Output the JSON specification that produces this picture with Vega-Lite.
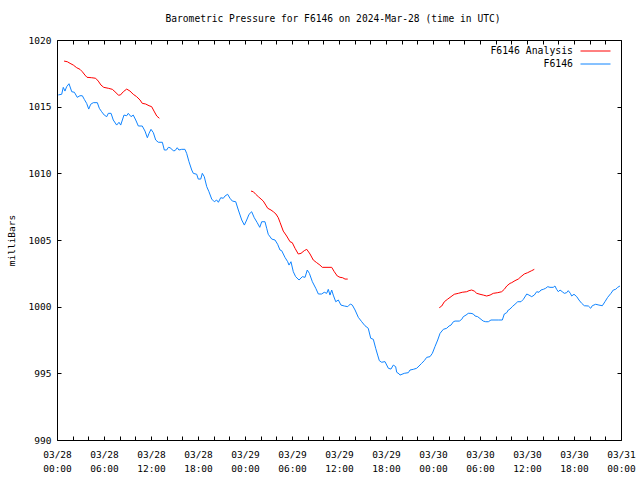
{
  "$schema": "https://vega.github.io/schema/vega-lite/v6.json",
  "width": 564,
  "height": 400,
  "autosize": {"type": "none"},
  "padding": {"left": 57, "top": 40, "right": 19, "bottom": 40},
  "background": "white",
  "config": {
    "font": "DejaVu Sans Mono",
    "view": {"stroke": "black", "strokeWidth": 1},
    "axis": {
      "domain": false, "grid": false, "tickColor": "black", "tickWidth": 1,
      "labelColor": "black", "labelFont": "DejaVu Sans Mono", "labelFontSize": 9.5,
      "titleFont": "DejaVu Sans Mono", "titleFontSize": 9.5, "titleFontWeight": "normal", "titleColor": "black",
      "labelOverlap": false, "labelFlush": false
    },
    "legend": {
      "labelFont": "DejaVu Sans Mono", "labelFontSize": 9.8, "labelColor": "black"
    }
  },
  "title": {
    "text": "Barometric Pressure for F6146 on 2024-Mar-28 (time in UTC)",
    "font": "DejaVu Sans Mono", "fontSize": 9.6, "fontWeight": "normal", "color": "black",
    "anchor": "middle", "offset": 11, "dx": -6
  },
  "data": {"values": [
    {"t":"2024-03-28T00:54:00Z","p":1018.42,"s":"F6146 Analysis","g":"a1"},
    {"t":"2024-03-28T01:19:00Z","p":1018.37,"s":"F6146 Analysis","g":"a1"},
    {"t":"2024-03-28T01:40:00Z","p":1018.25,"s":"F6146 Analysis","g":"a1"},
    {"t":"2024-03-28T02:05:00Z","p":1018.12,"s":"F6146 Analysis","g":"a1"},
    {"t":"2024-03-28T02:31:00Z","p":1017.92,"s":"F6146 Analysis","g":"a1"},
    {"t":"2024-03-28T02:56:00Z","p":1017.8,"s":"F6146 Analysis","g":"a1"},
    {"t":"2024-03-28T03:14:00Z","p":1017.62,"s":"F6146 Analysis","g":"a1"},
    {"t":"2024-03-28T03:34:00Z","p":1017.37,"s":"F6146 Analysis","g":"a1"},
    {"t":"2024-03-28T03:50:00Z","p":1017.2,"s":"F6146 Analysis","g":"a1"},
    {"t":"2024-03-28T04:26:00Z","p":1017.17,"s":"F6146 Analysis","g":"a1"},
    {"t":"2024-03-28T04:56:00Z","p":1017.13,"s":"F6146 Analysis","g":"a1"},
    {"t":"2024-03-28T05:16:00Z","p":1016.92,"s":"F6146 Analysis","g":"a1"},
    {"t":"2024-03-28T05:37:00Z","p":1016.62,"s":"F6146 Analysis","g":"a1"},
    {"t":"2024-03-28T05:58:00Z","p":1016.45,"s":"F6146 Analysis","g":"a1"},
    {"t":"2024-03-28T06:33:00Z","p":1016.38,"s":"F6146 Analysis","g":"a1"},
    {"t":"2024-03-28T07:04:00Z","p":1016.3,"s":"F6146 Analysis","g":"a1"},
    {"t":"2024-03-28T07:24:00Z","p":1016.12,"s":"F6146 Analysis","g":"a1"},
    {"t":"2024-03-28T07:50:00Z","p":1015.87,"s":"F6146 Analysis","g":"a1"},
    {"t":"2024-03-28T08:05:00Z","p":1015.87,"s":"F6146 Analysis","g":"a1"},
    {"t":"2024-03-28T08:28:00Z","p":1016.12,"s":"F6146 Analysis","g":"a1"},
    {"t":"2024-03-28T08:54:00Z","p":1016.32,"s":"F6146 Analysis","g":"a1"},
    {"t":"2024-03-28T09:19:00Z","p":1016.17,"s":"F6146 Analysis","g":"a1"},
    {"t":"2024-03-28T09:44:00Z","p":1015.93,"s":"F6146 Analysis","g":"a1"},
    {"t":"2024-03-28T10:10:00Z","p":1015.75,"s":"F6146 Analysis","g":"a1"},
    {"t":"2024-03-28T10:36:00Z","p":1015.5,"s":"F6146 Analysis","g":"a1"},
    {"t":"2024-03-28T10:53:00Z","p":1015.25,"s":"F6146 Analysis","g":"a1"},
    {"t":"2024-03-28T11:19:00Z","p":1015.2,"s":"F6146 Analysis","g":"a1"},
    {"t":"2024-03-28T11:45:00Z","p":1015.07,"s":"F6146 Analysis","g":"a1"},
    {"t":"2024-03-28T12:05:00Z","p":1015.0,"s":"F6146 Analysis","g":"a1"},
    {"t":"2024-03-28T12:23:00Z","p":1014.67,"s":"F6146 Analysis","g":"a1"},
    {"t":"2024-03-28T12:44:00Z","p":1014.3,"s":"F6146 Analysis","g":"a1"},
    {"t":"2024-03-28T13:04:00Z","p":1014.13,"s":"F6146 Analysis","g":"a1"},
    {"t":"2024-03-29T00:46:00Z","p":1008.67,"s":"F6146 Analysis","g":"a2"},
    {"t":"2024-03-29T01:04:00Z","p":1008.62,"s":"F6146 Analysis","g":"a2"},
    {"t":"2024-03-29T01:22:00Z","p":1008.43,"s":"F6146 Analysis","g":"a2"},
    {"t":"2024-03-29T01:42:00Z","p":1008.25,"s":"F6146 Analysis","g":"a2"},
    {"t":"2024-03-29T02:03:00Z","p":1008.07,"s":"F6146 Analysis","g":"a2"},
    {"t":"2024-03-29T02:20:00Z","p":1007.92,"s":"F6146 Analysis","g":"a2"},
    {"t":"2024-03-29T02:39:00Z","p":1007.62,"s":"F6146 Analysis","g":"a2"},
    {"t":"2024-03-29T02:54:00Z","p":1007.38,"s":"F6146 Analysis","g":"a2"},
    {"t":"2024-03-29T03:19:00Z","p":1007.25,"s":"F6146 Analysis","g":"a2"},
    {"t":"2024-03-29T03:37:00Z","p":1007.12,"s":"F6146 Analysis","g":"a2"},
    {"t":"2024-03-29T03:57:00Z","p":1006.95,"s":"F6146 Analysis","g":"a2"},
    {"t":"2024-03-29T04:15:00Z","p":1006.67,"s":"F6146 Analysis","g":"a2"},
    {"t":"2024-03-29T04:28:00Z","p":1006.33,"s":"F6146 Analysis","g":"a2"},
    {"t":"2024-03-29T04:53:00Z","p":1005.67,"s":"F6146 Analysis","g":"a2"},
    {"t":"2024-03-29T05:19:00Z","p":1005.3,"s":"F6146 Analysis","g":"a2"},
    {"t":"2024-03-29T05:45:00Z","p":1004.87,"s":"F6146 Analysis","g":"a2"},
    {"t":"2024-03-29T06:02:00Z","p":1004.8,"s":"F6146 Analysis","g":"a2"},
    {"t":"2024-03-29T06:23:00Z","p":1004.38,"s":"F6146 Analysis","g":"a2"},
    {"t":"2024-03-29T06:48:00Z","p":1003.95,"s":"F6146 Analysis","g":"a2"},
    {"t":"2024-03-29T07:09:00Z","p":1004.0,"s":"F6146 Analysis","g":"a2"},
    {"t":"2024-03-29T07:34:00Z","p":1004.2,"s":"F6146 Analysis","g":"a2"},
    {"t":"2024-03-29T07:53:00Z","p":1004.3,"s":"F6146 Analysis","g":"a2"},
    {"t":"2024-03-29T08:18:00Z","p":1003.95,"s":"F6146 Analysis","g":"a2"},
    {"t":"2024-03-29T08:43:00Z","p":1003.5,"s":"F6146 Analysis","g":"a2"},
    {"t":"2024-03-29T09:09:00Z","p":1003.3,"s":"F6146 Analysis","g":"a2"},
    {"t":"2024-03-29T09:34:00Z","p":1003.12,"s":"F6146 Analysis","g":"a2"},
    {"t":"2024-03-29T09:52:00Z","p":1002.95,"s":"F6146 Analysis","g":"a2"},
    {"t":"2024-03-29T11:04:00Z","p":1002.95,"s":"F6146 Analysis","g":"a2"},
    {"t":"2024-03-29T11:24:00Z","p":1002.62,"s":"F6146 Analysis","g":"a2"},
    {"t":"2024-03-29T11:47:00Z","p":1002.3,"s":"F6146 Analysis","g":"a2"},
    {"t":"2024-03-29T12:08:00Z","p":1002.2,"s":"F6146 Analysis","g":"a2"},
    {"t":"2024-03-29T12:28:00Z","p":1002.17,"s":"F6146 Analysis","g":"a2"},
    {"t":"2024-03-29T12:46:00Z","p":1002.07,"s":"F6146 Analysis","g":"a2"},
    {"t":"2024-03-29T13:07:00Z","p":1002.07,"s":"F6146 Analysis","g":"a2"},
    {"t":"2024-03-30T00:48:00Z","p":999.92,"s":"F6146 Analysis","g":"a3"},
    {"t":"2024-03-30T01:07:00Z","p":1000.05,"s":"F6146 Analysis","g":"a3"},
    {"t":"2024-03-30T01:27:00Z","p":1000.37,"s":"F6146 Analysis","g":"a3"},
    {"t":"2024-03-30T01:53:00Z","p":1000.57,"s":"F6146 Analysis","g":"a3"},
    {"t":"2024-03-30T02:18:00Z","p":1000.75,"s":"F6146 Analysis","g":"a3"},
    {"t":"2024-03-30T02:43:00Z","p":1000.93,"s":"F6146 Analysis","g":"a3"},
    {"t":"2024-03-30T03:14:00Z","p":1001.0,"s":"F6146 Analysis","g":"a3"},
    {"t":"2024-03-30T03:44:00Z","p":1001.08,"s":"F6146 Analysis","g":"a3"},
    {"t":"2024-03-30T04:18:00Z","p":1001.12,"s":"F6146 Analysis","g":"a3"},
    {"t":"2024-03-30T04:36:00Z","p":1001.2,"s":"F6146 Analysis","g":"a3"},
    {"t":"2024-03-30T04:56:00Z","p":1001.25,"s":"F6146 Analysis","g":"a3"},
    {"t":"2024-03-30T05:16:00Z","p":1001.17,"s":"F6146 Analysis","g":"a3"},
    {"t":"2024-03-30T05:35:00Z","p":1001.0,"s":"F6146 Analysis","g":"a3"},
    {"t":"2024-03-30T06:00:00Z","p":1000.93,"s":"F6146 Analysis","g":"a3"},
    {"t":"2024-03-30T06:25:00Z","p":1000.87,"s":"F6146 Analysis","g":"a3"},
    {"t":"2024-03-30T06:51:00Z","p":1000.8,"s":"F6146 Analysis","g":"a3"},
    {"t":"2024-03-30T07:17:00Z","p":1000.87,"s":"F6146 Analysis","g":"a3"},
    {"t":"2024-03-30T07:42:00Z","p":1001.0,"s":"F6146 Analysis","g":"a3"},
    {"t":"2024-03-30T08:16:00Z","p":1001.05,"s":"F6146 Analysis","g":"a3"},
    {"t":"2024-03-30T08:46:00Z","p":1001.12,"s":"F6146 Analysis","g":"a3"},
    {"t":"2024-03-30T09:06:00Z","p":1001.3,"s":"F6146 Analysis","g":"a3"},
    {"t":"2024-03-30T09:25:00Z","p":1001.55,"s":"F6146 Analysis","g":"a3"},
    {"t":"2024-03-30T09:50:00Z","p":1001.75,"s":"F6146 Analysis","g":"a3"},
    {"t":"2024-03-30T10:03:00Z","p":1001.8,"s":"F6146 Analysis","g":"a3"},
    {"t":"2024-03-30T10:28:00Z","p":1001.95,"s":"F6146 Analysis","g":"a3"},
    {"t":"2024-03-30T10:53:00Z","p":1002.07,"s":"F6146 Analysis","g":"a3"},
    {"t":"2024-03-30T11:14:00Z","p":1002.25,"s":"F6146 Analysis","g":"a3"},
    {"t":"2024-03-30T11:39:00Z","p":1002.45,"s":"F6146 Analysis","g":"a3"},
    {"t":"2024-03-30T12:05:00Z","p":1002.55,"s":"F6146 Analysis","g":"a3"},
    {"t":"2024-03-30T12:36:00Z","p":1002.7,"s":"F6146 Analysis","g":"a3"},
    {"t":"2024-03-30T12:56:00Z","p":1002.8,"s":"F6146 Analysis","g":"a3"},
    {"t":"2024-03-28T00:10:00Z","p":1015.88,"s":"F6146","g":"b"},
    {"t":"2024-03-28T00:36:00Z","p":1015.93,"s":"F6146","g":"b"},
    {"t":"2024-03-28T00:48:00Z","p":1016.45,"s":"F6146","g":"b"},
    {"t":"2024-03-28T01:01:00Z","p":1016.17,"s":"F6146","g":"b"},
    {"t":"2024-03-28T01:14:00Z","p":1016.5,"s":"F6146","g":"b"},
    {"t":"2024-03-28T01:32:00Z","p":1016.72,"s":"F6146","g":"b"},
    {"t":"2024-03-28T01:53:00Z","p":1016.12,"s":"F6146","g":"b"},
    {"t":"2024-03-28T02:13:00Z","p":1016.08,"s":"F6146","g":"b"},
    {"t":"2024-03-28T02:35:00Z","p":1015.7,"s":"F6146","g":"b"},
    {"t":"2024-03-28T02:56:00Z","p":1015.82,"s":"F6146","g":"b"},
    {"t":"2024-03-28T03:14:00Z","p":1015.82,"s":"F6146","g":"b"},
    {"t":"2024-03-28T03:29:00Z","p":1015.55,"s":"F6146","g":"b"},
    {"t":"2024-03-28T03:47:00Z","p":1015.25,"s":"F6146","g":"b"},
    {"t":"2024-03-28T04:03:00Z","p":1014.82,"s":"F6146","g":"b"},
    {"t":"2024-03-28T04:18:00Z","p":1015.18,"s":"F6146","g":"b"},
    {"t":"2024-03-28T04:38:00Z","p":1015.3,"s":"F6146","g":"b"},
    {"t":"2024-03-28T05:09:00Z","p":1015.3,"s":"F6146","g":"b"},
    {"t":"2024-03-28T05:24:00Z","p":1014.88,"s":"F6146","g":"b"},
    {"t":"2024-03-28T05:42:00Z","p":1014.62,"s":"F6146","g":"b"},
    {"t":"2024-03-28T06:02:00Z","p":1014.37,"s":"F6146","g":"b"},
    {"t":"2024-03-28T06:21:00Z","p":1014.25,"s":"F6146","g":"b"},
    {"t":"2024-03-28T06:33:00Z","p":1014.5,"s":"F6146","g":"b"},
    {"t":"2024-03-28T06:54:00Z","p":1014.5,"s":"F6146","g":"b"},
    {"t":"2024-03-28T07:11:00Z","p":1014.0,"s":"F6146","g":"b"},
    {"t":"2024-03-28T07:37:00Z","p":1013.62,"s":"F6146","g":"b"},
    {"t":"2024-03-28T07:55:00Z","p":1013.83,"s":"F6146","g":"b"},
    {"t":"2024-03-28T08:08:00Z","p":1013.62,"s":"F6146","g":"b"},
    {"t":"2024-03-28T08:33:00Z","p":1014.37,"s":"F6146","g":"b"},
    {"t":"2024-03-28T08:54:00Z","p":1014.32,"s":"F6146","g":"b"},
    {"t":"2024-03-28T09:06:00Z","p":1014.5,"s":"F6146","g":"b"},
    {"t":"2024-03-28T09:27:00Z","p":1014.25,"s":"F6146","g":"b"},
    {"t":"2024-03-28T09:44:00Z","p":1014.37,"s":"F6146","g":"b"},
    {"t":"2024-03-28T10:03:00Z","p":1014.0,"s":"F6146","g":"b"},
    {"t":"2024-03-28T10:23:00Z","p":1013.55,"s":"F6146","g":"b"},
    {"t":"2024-03-28T10:53:00Z","p":1013.55,"s":"F6146","g":"b"},
    {"t":"2024-03-28T11:14:00Z","p":1013.17,"s":"F6146","g":"b"},
    {"t":"2024-03-28T11:32:00Z","p":1012.67,"s":"F6146","g":"b"},
    {"t":"2024-03-28T11:45:00Z","p":1013.0,"s":"F6146","g":"b"},
    {"t":"2024-03-28T12:00:00Z","p":1013.3,"s":"F6146","g":"b"},
    {"t":"2024-03-28T12:18:00Z","p":1013.05,"s":"F6146","g":"b"},
    {"t":"2024-03-28T12:36:00Z","p":1012.5,"s":"F6146","g":"b"},
    {"t":"2024-03-28T12:56:00Z","p":1012.33,"s":"F6146","g":"b"},
    {"t":"2024-03-28T13:27:00Z","p":1012.33,"s":"F6146","g":"b"},
    {"t":"2024-03-28T13:42:00Z","p":1011.75,"s":"F6146","g":"b"},
    {"t":"2024-03-28T14:00:00Z","p":1011.75,"s":"F6146","g":"b"},
    {"t":"2024-03-28T14:13:00Z","p":1011.95,"s":"F6146","g":"b"},
    {"t":"2024-03-28T14:26:00Z","p":1011.92,"s":"F6146","g":"b"},
    {"t":"2024-03-28T14:51:00Z","p":1011.7,"s":"F6146","g":"b"},
    {"t":"2024-03-28T15:04:00Z","p":1011.7,"s":"F6146","g":"b"},
    {"t":"2024-03-28T15:21:00Z","p":1011.92,"s":"F6146","g":"b"},
    {"t":"2024-03-28T15:34:00Z","p":1011.75,"s":"F6146","g":"b"},
    {"t":"2024-03-28T15:55:00Z","p":1011.8,"s":"F6146","g":"b"},
    {"t":"2024-03-28T16:20:00Z","p":1011.8,"s":"F6146","g":"b"},
    {"t":"2024-03-28T16:33:00Z","p":1011.5,"s":"F6146","g":"b"},
    {"t":"2024-03-28T16:51:00Z","p":1010.87,"s":"F6146","g":"b"},
    {"t":"2024-03-28T17:12:00Z","p":1010.25,"s":"F6146","g":"b"},
    {"t":"2024-03-28T17:24:00Z","p":1010.0,"s":"F6146","g":"b"},
    {"t":"2024-03-28T17:50:00Z","p":1009.93,"s":"F6146","g":"b"},
    {"t":"2024-03-28T18:02:00Z","p":1009.57,"s":"F6146","g":"b"},
    {"t":"2024-03-28T18:21:00Z","p":1009.57,"s":"F6146","g":"b"},
    {"t":"2024-03-28T18:33:00Z","p":1010.0,"s":"F6146","g":"b"},
    {"t":"2024-03-28T18:48:00Z","p":1009.75,"s":"F6146","g":"b"},
    {"t":"2024-03-28T19:07:00Z","p":1009.0,"s":"F6146","g":"b"},
    {"t":"2024-03-28T19:24:00Z","p":1008.62,"s":"F6146","g":"b"},
    {"t":"2024-03-28T19:45:00Z","p":1008.07,"s":"F6146","g":"b"},
    {"t":"2024-03-28T20:05:00Z","p":1007.87,"s":"F6146","g":"b"},
    {"t":"2024-03-28T20:23:00Z","p":1008.0,"s":"F6146","g":"b"},
    {"t":"2024-03-28T20:36:00Z","p":1007.83,"s":"F6146","g":"b"},
    {"t":"2024-03-28T20:54:00Z","p":1008.17,"s":"F6146","g":"b"},
    {"t":"2024-03-28T21:14:00Z","p":1008.13,"s":"F6146","g":"b"},
    {"t":"2024-03-28T21:27:00Z","p":1008.3,"s":"F6146","g":"b"},
    {"t":"2024-03-28T21:47:00Z","p":1008.43,"s":"F6146","g":"b"},
    {"t":"2024-03-28T22:05:00Z","p":1008.13,"s":"F6146","g":"b"},
    {"t":"2024-03-28T22:23:00Z","p":1007.92,"s":"F6146","g":"b"},
    {"t":"2024-03-28T22:49:00Z","p":1007.87,"s":"F6146","g":"b"},
    {"t":"2024-03-28T23:09:00Z","p":1007.25,"s":"F6146","g":"b"},
    {"t":"2024-03-28T23:35:00Z","p":1006.5,"s":"F6146","g":"b"},
    {"t":"2024-03-28T23:55:00Z","p":1006.12,"s":"F6146","g":"b"},
    {"t":"2024-03-29T00:13:00Z","p":1006.5,"s":"F6146","g":"b"},
    {"t":"2024-03-29T00:31:00Z","p":1006.93,"s":"F6146","g":"b"},
    {"t":"2024-03-29T00:51:00Z","p":1007.12,"s":"F6146","g":"b"},
    {"t":"2024-03-29T01:11:00Z","p":1006.67,"s":"F6146","g":"b"},
    {"t":"2024-03-29T01:32:00Z","p":1006.33,"s":"F6146","g":"b"},
    {"t":"2024-03-29T01:53:00Z","p":1005.95,"s":"F6146","g":"b"},
    {"t":"2024-03-29T02:08:00Z","p":1006.37,"s":"F6146","g":"b"},
    {"t":"2024-03-29T02:33:00Z","p":1006.37,"s":"F6146","g":"b"},
    {"t":"2024-03-29T02:46:00Z","p":1005.88,"s":"F6146","g":"b"},
    {"t":"2024-03-29T02:58:00Z","p":1005.43,"s":"F6146","g":"b"},
    {"t":"2024-03-29T03:25:00Z","p":1005.07,"s":"F6146","g":"b"},
    {"t":"2024-03-29T03:50:00Z","p":1005.0,"s":"F6146","g":"b"},
    {"t":"2024-03-29T04:10:00Z","p":1004.68,"s":"F6146","g":"b"},
    {"t":"2024-03-29T04:28:00Z","p":1004.25,"s":"F6146","g":"b"},
    {"t":"2024-03-29T04:41:00Z","p":1004.2,"s":"F6146","g":"b"},
    {"t":"2024-03-29T05:06:00Z","p":1003.7,"s":"F6146","g":"b"},
    {"t":"2024-03-29T05:27:00Z","p":1003.37,"s":"F6146","g":"b"},
    {"t":"2024-03-29T05:37:00Z","p":1003.12,"s":"F6146","g":"b"},
    {"t":"2024-03-29T05:52:00Z","p":1003.37,"s":"F6146","g":"b"},
    {"t":"2024-03-29T06:10:00Z","p":1002.62,"s":"F6146","g":"b"},
    {"t":"2024-03-29T06:28:00Z","p":1002.25,"s":"F6146","g":"b"},
    {"t":"2024-03-29T06:54:00Z","p":1002.0,"s":"F6146","g":"b"},
    {"t":"2024-03-29T07:19:00Z","p":1002.25,"s":"F6146","g":"b"},
    {"t":"2024-03-29T07:40:00Z","p":1002.2,"s":"F6146","g":"b"},
    {"t":"2024-03-29T07:57:00Z","p":1002.75,"s":"F6146","g":"b"},
    {"t":"2024-03-29T08:13:00Z","p":1002.5,"s":"F6146","g":"b"},
    {"t":"2024-03-29T08:36:00Z","p":1001.87,"s":"F6146","g":"b"},
    {"t":"2024-03-29T09:02:00Z","p":1001.38,"s":"F6146","g":"b"},
    {"t":"2024-03-29T09:22:00Z","p":1000.95,"s":"F6146","g":"b"},
    {"t":"2024-03-29T09:47:00Z","p":1000.95,"s":"F6146","g":"b"},
    {"t":"2024-03-29T10:07:00Z","p":1001.08,"s":"F6146","g":"b"},
    {"t":"2024-03-29T10:26:00Z","p":1001.0,"s":"F6146","g":"b"},
    {"t":"2024-03-29T10:38:00Z","p":1001.3,"s":"F6146","g":"b"},
    {"t":"2024-03-29T10:51:00Z","p":1000.87,"s":"F6146","g":"b"},
    {"t":"2024-03-29T11:04:00Z","p":1001.25,"s":"F6146","g":"b"},
    {"t":"2024-03-29T11:16:00Z","p":1000.87,"s":"F6146","g":"b"},
    {"t":"2024-03-29T11:35:00Z","p":1000.37,"s":"F6146","g":"b"},
    {"t":"2024-03-29T11:55:00Z","p":1000.5,"s":"F6146","g":"b"},
    {"t":"2024-03-29T12:15:00Z","p":1000.12,"s":"F6146","g":"b"},
    {"t":"2024-03-29T12:41:00Z","p":1000.05,"s":"F6146","g":"b"},
    {"t":"2024-03-29T13:07:00Z","p":1000.0,"s":"F6146","g":"b"},
    {"t":"2024-03-29T13:27:00Z","p":1000.2,"s":"F6146","g":"b"},
    {"t":"2024-03-29T13:42:00Z","p":1000.12,"s":"F6146","g":"b"},
    {"t":"2024-03-29T14:03:00Z","p":999.75,"s":"F6146","g":"b"},
    {"t":"2024-03-29T14:28:00Z","p":999.2,"s":"F6146","g":"b"},
    {"t":"2024-03-29T14:54:00Z","p":998.87,"s":"F6146","g":"b"},
    {"t":"2024-03-29T15:19:00Z","p":998.57,"s":"F6146","g":"b"},
    {"t":"2024-03-29T15:44:00Z","p":998.38,"s":"F6146","g":"b"},
    {"t":"2024-03-29T16:03:00Z","p":997.63,"s":"F6146","g":"b"},
    {"t":"2024-03-29T16:23:00Z","p":997.55,"s":"F6146","g":"b"},
    {"t":"2024-03-29T16:41:00Z","p":996.88,"s":"F6146","g":"b"},
    {"t":"2024-03-29T16:56:00Z","p":996.37,"s":"F6146","g":"b"},
    {"t":"2024-03-29T17:09:00Z","p":995.95,"s":"F6146","g":"b"},
    {"t":"2024-03-29T17:27:00Z","p":995.83,"s":"F6146","g":"b"},
    {"t":"2024-03-29T17:52:00Z","p":995.88,"s":"F6146","g":"b"},
    {"t":"2024-03-29T18:18:00Z","p":995.38,"s":"F6146","g":"b"},
    {"t":"2024-03-29T18:38:00Z","p":995.32,"s":"F6146","g":"b"},
    {"t":"2024-03-29T18:56:00Z","p":995.62,"s":"F6146","g":"b"},
    {"t":"2024-03-29T19:14:00Z","p":995.5,"s":"F6146","g":"b"},
    {"t":"2024-03-29T19:22:00Z","p":995.08,"s":"F6146","g":"b"},
    {"t":"2024-03-29T19:42:00Z","p":994.95,"s":"F6146","g":"b"},
    {"t":"2024-03-29T19:47:00Z","p":994.87,"s":"F6146","g":"b"},
    {"t":"2024-03-29T20:20:00Z","p":995.0,"s":"F6146","g":"b"},
    {"t":"2024-03-29T20:51:00Z","p":995.05,"s":"F6146","g":"b"},
    {"t":"2024-03-29T21:04:00Z","p":995.25,"s":"F6146","g":"b"},
    {"t":"2024-03-29T21:29:00Z","p":995.3,"s":"F6146","g":"b"},
    {"t":"2024-03-29T21:55:00Z","p":995.38,"s":"F6146","g":"b"},
    {"t":"2024-03-29T22:13:00Z","p":995.55,"s":"F6146","g":"b"},
    {"t":"2024-03-29T22:33:00Z","p":995.75,"s":"F6146","g":"b"},
    {"t":"2024-03-29T22:53:00Z","p":995.95,"s":"F6146","g":"b"},
    {"t":"2024-03-29T23:12:00Z","p":996.2,"s":"F6146","g":"b"},
    {"t":"2024-03-29T23:37:00Z","p":996.25,"s":"F6146","g":"b"},
    {"t":"2024-03-29T23:55:00Z","p":996.5,"s":"F6146","g":"b"},
    {"t":"2024-03-30T00:15:00Z","p":997.0,"s":"F6146","g":"b"},
    {"t":"2024-03-30T00:36:00Z","p":997.5,"s":"F6146","g":"b"},
    {"t":"2024-03-30T00:54:00Z","p":998.0,"s":"F6146","g":"b"},
    {"t":"2024-03-30T01:19:00Z","p":998.3,"s":"F6146","g":"b"},
    {"t":"2024-03-30T01:45:00Z","p":998.38,"s":"F6146","g":"b"},
    {"t":"2024-03-30T02:03:00Z","p":998.55,"s":"F6146","g":"b"},
    {"t":"2024-03-30T02:18:00Z","p":998.62,"s":"F6146","g":"b"},
    {"t":"2024-03-30T02:36:00Z","p":998.87,"s":"F6146","g":"b"},
    {"t":"2024-03-30T02:49:00Z","p":998.92,"s":"F6146","g":"b"},
    {"t":"2024-03-30T03:22:00Z","p":998.92,"s":"F6146","g":"b"},
    {"t":"2024-03-30T03:40:00Z","p":999.05,"s":"F6146","g":"b"},
    {"t":"2024-03-30T03:52:00Z","p":999.25,"s":"F6146","g":"b"},
    {"t":"2024-03-30T04:13:00Z","p":999.37,"s":"F6146","g":"b"},
    {"t":"2024-03-30T04:30:00Z","p":999.5,"s":"F6146","g":"b"},
    {"t":"2024-03-30T04:51:00Z","p":999.5,"s":"F6146","g":"b"},
    {"t":"2024-03-30T05:09:00Z","p":999.45,"s":"F6146","g":"b"},
    {"t":"2024-03-30T05:22:00Z","p":999.3,"s":"F6146","g":"b"},
    {"t":"2024-03-30T05:42:00Z","p":999.25,"s":"F6146","g":"b"},
    {"t":"2024-03-30T06:08:00Z","p":999.05,"s":"F6146","g":"b"},
    {"t":"2024-03-30T06:25:00Z","p":998.92,"s":"F6146","g":"b"},
    {"t":"2024-03-30T06:44:00Z","p":998.87,"s":"F6146","g":"b"},
    {"t":"2024-03-30T07:04:00Z","p":998.87,"s":"F6146","g":"b"},
    {"t":"2024-03-30T07:24:00Z","p":999.0,"s":"F6146","g":"b"},
    {"t":"2024-03-30T07:55:00Z","p":999.0,"s":"F6146","g":"b"},
    {"t":"2024-03-30T08:20:00Z","p":999.0,"s":"F6146","g":"b"},
    {"t":"2024-03-30T08:51:00Z","p":999.0,"s":"F6146","g":"b"},
    {"t":"2024-03-30T09:06:00Z","p":999.45,"s":"F6146","g":"b"},
    {"t":"2024-03-30T09:25:00Z","p":999.55,"s":"F6146","g":"b"},
    {"t":"2024-03-30T09:37:00Z","p":999.75,"s":"F6146","g":"b"},
    {"t":"2024-03-30T09:50:00Z","p":999.82,"s":"F6146","g":"b"},
    {"t":"2024-03-30T10:07:00Z","p":1000.0,"s":"F6146","g":"b"},
    {"t":"2024-03-30T10:28:00Z","p":1000.18,"s":"F6146","g":"b"},
    {"t":"2024-03-30T10:49:00Z","p":1000.37,"s":"F6146","g":"b"},
    {"t":"2024-03-30T11:14:00Z","p":1000.37,"s":"F6146","g":"b"},
    {"t":"2024-03-30T11:32:00Z","p":1000.55,"s":"F6146","g":"b"},
    {"t":"2024-03-30T11:58:00Z","p":1000.95,"s":"F6146","g":"b"},
    {"t":"2024-03-30T12:15:00Z","p":1000.87,"s":"F6146","g":"b"},
    {"t":"2024-03-30T12:36:00Z","p":1000.75,"s":"F6146","g":"b"},
    {"t":"2024-03-30T12:56:00Z","p":1000.87,"s":"F6146","g":"b"},
    {"t":"2024-03-30T13:14:00Z","p":1001.12,"s":"F6146","g":"b"},
    {"t":"2024-03-30T13:32:00Z","p":1001.08,"s":"F6146","g":"b"},
    {"t":"2024-03-30T13:47:00Z","p":1001.25,"s":"F6146","g":"b"},
    {"t":"2024-03-30T14:05:00Z","p":1001.3,"s":"F6146","g":"b"},
    {"t":"2024-03-30T14:23:00Z","p":1001.38,"s":"F6146","g":"b"},
    {"t":"2024-03-30T14:39:00Z","p":1001.5,"s":"F6146","g":"b"},
    {"t":"2024-03-30T14:56:00Z","p":1001.45,"s":"F6146","g":"b"},
    {"t":"2024-03-30T15:21:00Z","p":1001.45,"s":"F6146","g":"b"},
    {"t":"2024-03-30T15:34:00Z","p":1001.55,"s":"F6146","g":"b"},
    {"t":"2024-03-30T15:47:00Z","p":1001.3,"s":"F6146","g":"b"},
    {"t":"2024-03-30T16:00:00Z","p":1001.12,"s":"F6146","g":"b"},
    {"t":"2024-03-30T16:13:00Z","p":1001.25,"s":"F6146","g":"b"},
    {"t":"2024-03-30T16:30:00Z","p":1001.12,"s":"F6146","g":"b"},
    {"t":"2024-03-30T16:46:00Z","p":1001.0,"s":"F6146","g":"b"},
    {"t":"2024-03-30T17:04:00Z","p":1001.05,"s":"F6146","g":"b"},
    {"t":"2024-03-30T17:16:00Z","p":1001.2,"s":"F6146","g":"b"},
    {"t":"2024-03-30T17:32:00Z","p":1001.0,"s":"F6146","g":"b"},
    {"t":"2024-03-30T17:42:00Z","p":1000.8,"s":"F6146","g":"b"},
    {"t":"2024-03-30T18:00:00Z","p":1000.93,"s":"F6146","g":"b"},
    {"t":"2024-03-30T18:21:00Z","p":1000.75,"s":"F6146","g":"b"},
    {"t":"2024-03-30T18:38:00Z","p":1000.5,"s":"F6146","g":"b"},
    {"t":"2024-03-30T18:59:00Z","p":1000.25,"s":"F6146","g":"b"},
    {"t":"2024-03-30T19:19:00Z","p":1000.07,"s":"F6146","g":"b"},
    {"t":"2024-03-30T19:50:00Z","p":1000.05,"s":"F6146","g":"b"},
    {"t":"2024-03-30T20:08:00Z","p":999.88,"s":"F6146","g":"b"},
    {"t":"2024-03-30T20:20:00Z","p":1000.07,"s":"F6146","g":"b"},
    {"t":"2024-03-30T20:46:00Z","p":1000.18,"s":"F6146","g":"b"},
    {"t":"2024-03-30T21:11:00Z","p":1000.12,"s":"F6146","g":"b"},
    {"t":"2024-03-30T21:37:00Z","p":1000.07,"s":"F6146","g":"b"},
    {"t":"2024-03-30T21:57:00Z","p":1000.37,"s":"F6146","g":"b"},
    {"t":"2024-03-30T22:18:00Z","p":1000.7,"s":"F6146","g":"b"},
    {"t":"2024-03-30T22:43:00Z","p":1001.0,"s":"F6146","g":"b"},
    {"t":"2024-03-30T23:01:00Z","p":1001.25,"s":"F6146","g":"b"},
    {"t":"2024-03-30T23:19:00Z","p":1001.3,"s":"F6146","g":"b"},
    {"t":"2024-03-30T23:34:00Z","p":1001.45,"s":"F6146","g":"b"},
    {"t":"2024-03-30T23:52:00Z","p":1001.55,"s":"F6146","g":"b"}
  ]},
  "layer": [
    {
      "mark": {"type": "line", "strokeWidth": 1},
      "encoding": {
        "x": {
          "field": "t", "type": "temporal",
          "scale": {"type": "utc", "nice": false, "domain": [1711584000000, 1711843200000]},
          "axis": {
            "orient": "bottom", "title": null,
            "values": [1711584000000,1711591200000,1711598400000,1711605600000,1711612800000,1711620000000,1711627200000,1711634400000,1711641600000,1711648800000,1711656000000,1711663200000,1711670400000,1711677600000,1711684800000,1711692000000,1711699200000,1711706400000,1711713600000,1711720800000,1711728000000,1711735200000,1711742400000,1711749600000,1711756800000,1711764000000,1711771200000,1711778400000,1711785600000,1711792800000,1711800000000,1711807200000,1711814400000,1711821600000,1711828800000,1711836000000,1711843200000],
            "tickSize": -4, "labelPadding": 13, "labelBaseline": "top", "labelLineHeight": 14,
            "labelExpr": "utchours(datum.value) % 6 == 0 ? [utcFormat(datum.value, '%m/%d'), utcFormat(datum.value, '%H:%M')] : ''"
          }
        },
        "y": {
          "field": "p", "type": "quantitative",
          "scale": {"domain": [990, 1020], "nice": false, "zero": false},
          "axis": {
            "orient": "left", "title": "milliBars", "values": [990, 995, 1000, 1005, 1010, 1015, 1020], "format": "d",
            "tickSize": -4, "labelPadding": 10, "titlePadding": 12
          }
        },
        "color": {
          "field": "s", "type": "nominal",
          "scale": {"domain": ["F6146 Analysis", "F6146"], "range": ["#ff0000", "#0f84ff"]},
          "legend": {
            "title": null, "orient": "none", "legendX": 533, "legendY": 5.5, "padding": 0,
            "symbolType": "M-3,0H3", "symbolSize": 100, "symbolStrokeWidth": 1,
            "labelAlign": "right", "labelOffset": -28, "rowPadding": 2
          }
        },
        "detail": {"field": "g", "type": "nominal"}
      }
    },
    {
      "mark": {"type": "line", "strokeOpacity": 0},
      "encoding": {
        "x": {
          "field": "t", "type": "temporal",
          "scale": {"type": "utc", "nice": false, "domain": [1711584000000, 1711843200000]},
          "axis": {
            "orient": "top", "title": null, "labels": false,
            "values": [1711584000000,1711591200000,1711598400000,1711605600000,1711612800000,1711620000000,1711627200000,1711634400000,1711641600000,1711648800000,1711656000000,1711663200000,1711670400000,1711677600000,1711684800000,1711692000000,1711699200000,1711706400000,1711713600000,1711720800000,1711728000000,1711735200000,1711742400000,1711749600000,1711756800000,1711764000000,1711771200000,1711778400000,1711785600000,1711792800000,1711800000000,1711807200000,1711814400000,1711821600000,1711828800000,1711836000000,1711843200000],
            "tickSize": -4
          }
        },
        "y": {
          "field": "p", "type": "quantitative",
          "scale": {"domain": [990, 1020], "nice": false, "zero": false},
          "axis": {"orient": "right", "title": null, "labels": false, "values": [990, 995, 1000, 1005, 1010, 1015, 1020], "tickSize": -4}
        },
        "detail": {"field": "g", "type": "nominal"}
      }
    }
  ],
  "resolve": {"axis": {"x": "independent", "y": "independent"}}
}
